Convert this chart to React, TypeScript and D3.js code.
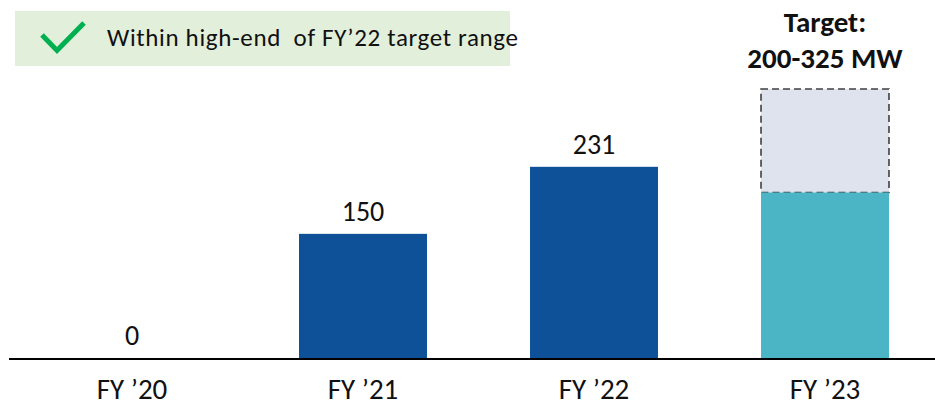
import React from "react";
import * as d3 from "d3";

const categories = ["FY \u201920", "FY \u201921", "FY \u201922", "FY \u201923"];
const values = [0, 150, 231, 200];
const valueLabels = ["0", "150", "231", ""];
const targetLow = 200;
const targetHigh = 325;
const targetLines = ["Target:", "200-325 MW"];
const noteText = "Within high-end  of FY\u201922 target range";

const W = 935;
const H = 406;
const FONT = "Carlito, Calibri, Lato, sans-serif";

export default function App() {
  const x = d3
    .scaleBand<string>()
    .domain(categories)
    .range([16.5, 940.5])
    .paddingInner(0.446)
    .paddingOuter(0.223);
  const y = d3.scaleLinear().domain([0, targetHigh]).range([358, 89]);
  const bw = x.bandwidth();
  const last = categories[categories.length - 1];

  return (
    <svg
      width={W}
      height={H}
      style={{ position: "absolute", left: 0, top: 0, background: "#fff" }}
      fontFamily={FONT}
    >
      {/* note box */}
      <rect x={15} y={11} width={495} height={55} fill="#e2efda" />
      <path
        d="M42,35 L57,50.5 L84,23"
        fill="none"
        stroke="#00b050"
        strokeWidth={5}
      />
      <text
        x={107}
        y={46}
        fontSize={25}
        fill="#111"
        textLength={411}
        lengthAdjust="spacing"
        style={{ whiteSpace: "pre" }}
      >
        {noteText}
      </text>

      {/* target range box */}
      <rect
        x={x(last)}
        y={y(targetHigh)}
        width={bw}
        height={y(targetLow) - y(targetHigh)}
        fill="#dee3ee"
        stroke="#404040"
        strokeWidth={1.6}
        strokeDasharray="7,4"
      />

      {/* bars */}
      {categories.map((c, i) => (
        <rect
          key={c}
          x={x(c)}
          y={y(values[i])}
          width={bw}
          height={y(0) - y(values[i])}
          fill={i === categories.length - 1 ? "#4bb5c6" : "#0f5199"}
        />
      ))}

      {/* value labels */}
      {categories.map((c, i) =>
        valueLabels[i] ? (
          <text
            key={c}
            x={(x(c) as number) + bw / 2}
            y={y(values[i]) - 13}
            textAnchor="middle"
            fontSize={28}
            fill="#111"
          >
            {valueLabels[i]}
          </text>
        ) : null
      )}

      {/* target label */}
      {targetLines.map((t, i) => (
        <text
          key={t}
          x={(x(last) as number) + bw / 2}
          y={32 + i * 36}
          textAnchor="middle"
          fontSize={29}
          fontWeight="bold"
          fill="#111"
        >
          {t}
        </text>
      ))}

      {/* axis */}
      <line x1={9} x2={W} y1={y(0) + 1} y2={y(0) + 1} stroke="#000" strokeWidth={2} />
      {categories.map((c) => (
        <text
          key={c}
          x={(x(c) as number) + bw / 2}
          y={399}
          textAnchor="middle"
          fontSize={29}
          fill="#111"
        >
          {c}
        </text>
      ))}
    </svg>
  );
}
